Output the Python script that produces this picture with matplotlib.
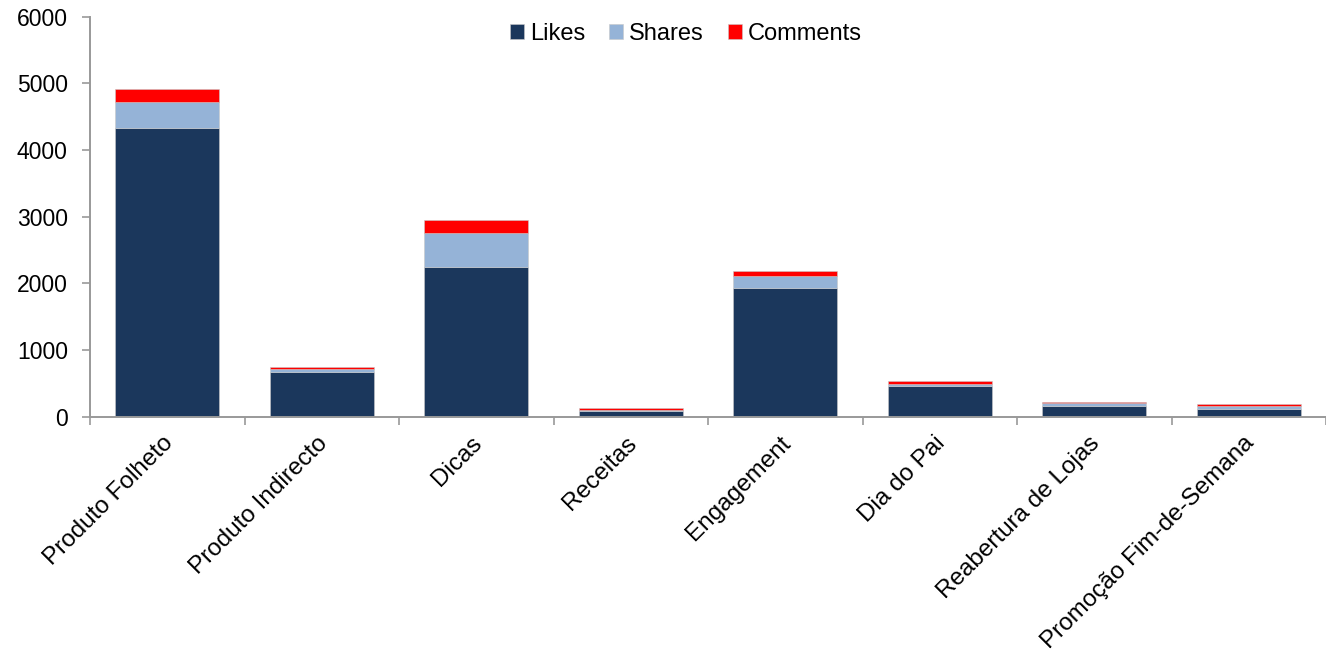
import matplotlib.pyplot as plt
import matplotlib.transforms as mtransforms
import numpy as np
from matplotlib.patches import Patch

# interacções por tipo de publicação
categorias = ['Produto Folheto', 'Produto Indirecto', 'Dicas', 'Receitas',
              'Engagement', 'Dia do Pai', 'Reabertura de Lojas',
              'Promoção Fim-de-Semana']
likes = [4335, 665, 2240, 90, 1925, 455, 165, 110]
shares = [390, 45, 515, 15, 185, 35, 35, 55]
comments = [186, 40, 190, 30, 80, 45, 25, 30]

cor_likes = '#1b375c'
cor_shares = '#95b3d7'
cor_comments = '#ff0000'

plt.rcParams['font.family'] = ['Liberation Sans', 'DejaVu Sans']

fig = plt.figure(figsize=(13.26, 6.55), dpi=100)
ax = fig.add_axes([90 / 1326, 0.3638, 1 - 90 / 1326, 0.6107])

x = np.arange(len(categorias))
largura = 0.67
likes = np.array(likes)
shares = np.array(shares)
comments = np.array(comments)

estilo = dict(width=largura, edgecolor='#c8c8c8', linewidth=0.4)
ax.bar(x, likes, color=cor_likes, **estilo)
ax.bar(x, shares, bottom=likes, color=cor_shares, **estilo)
ax.bar(x, comments, bottom=likes + shares, color=cor_comments, **estilo)

ax.set_ylim(0, 6000)
ax.set_xlim(-0.5, 7.377)
ax.set_yticks(range(0, 6001, 1000))

# ticks nos limites das categorias, nomes no centro
ax.set_xticks(np.arange(-0.5, len(categorias)))
ax.set_xticklabels([])
ax.set_xticks(x, minor=True)
ax.set_xticklabels(categorias, minor=True, rotation=45, ha='right',
                   fontsize=17.5)
ax.tick_params(axis='x', which='minor', length=0, pad=11)
ax.tick_params(axis='x', which='major', length=6, width=1.2, color='#999999')
ax.tick_params(axis='y', length=6, width=1.2, color='#999999', pad=10,
               labelsize=16.5)

# desloca os nomes um pouco para a direita
desvio = mtransforms.ScaledTranslation(10 / 100, 0, fig.dpi_scale_trans)
for lbl in ax.get_xticklabels(minor=True):
    lbl.set_transform(lbl.get_transform() + desvio)

for lado in ['top', 'right']:
    ax.spines[lado].set_visible(False)
for lado in ['left', 'bottom']:
    ax.spines[lado].set_color('#999999')
    ax.spines[lado].set_linewidth(1.4)

handles = [Patch(facecolor=cor_likes, edgecolor='#c8c8c8', linewidth=0.4),
           Patch(facecolor=cor_shares, edgecolor='#c8c8c8', linewidth=0.4),
           Patch(facecolor=cor_comments, edgecolor='#c8c8c8', linewidth=0.4)]
fig.legend(handles, ['Likes', 'Shares', 'Comments'], loc='center',
           bbox_to_anchor=(686 / 1326, 1 - 34 / 655), ncol=3, frameon=False,
           fontsize=17, handlelength=0.6, handleheight=0.6,
           handletextpad=0.25, columnspacing=1.0)

fig.savefig('out.png', dpi=100)
